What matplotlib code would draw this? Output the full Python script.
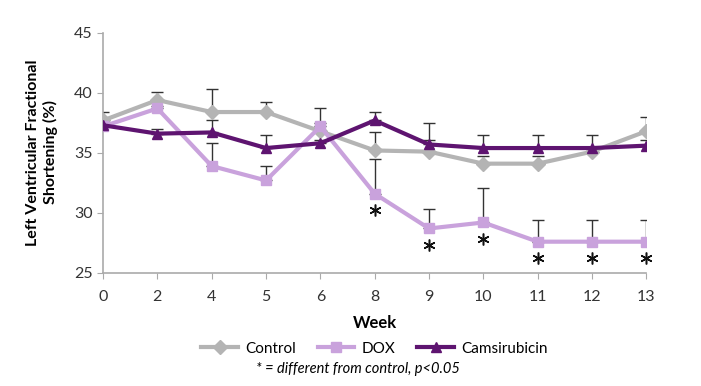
import numpy as np
import matplotlib
matplotlib.use("Agg")
import matplotlib.pyplot as plt

plt.rcParams['font.family'] = ['Lato', 'DejaVu Sans']

weeks = ["0", "2", "4", "5", "6", "8", "9", "10", "11", "12", "13"]

control = [37.7, 39.4, 38.4, 38.4, 36.8, 35.2, 35.1, 34.1, 34.1, 35.1, 36.8]
control_err = [0.7, 0.7, 1.9, 0.8, 1.9, 1.5, 1.0, 0.6, 0.6, 0.3, 1.2]

dox = [37.2, 38.7, 33.9, 32.7, 37.2, 31.6, 28.7, 29.2, 27.6, 27.6, 27.6]
dox_err = [0.2, 0.2, 1.9, 1.2, 0.3, 2.9, 1.6, 2.9, 1.8, 1.8, 1.8]

cams = [37.3, 36.6, 36.7, 35.4, 35.8, 37.7, 35.7, 35.4, 35.4, 35.4, 35.6]
cams_err = [0.2, 0.4, 1.0, 1.1, 0.3, 0.7, 1.8, 1.1, 1.1, 1.1, 0.5]

# weeks where DOX differs from control
signif = ["8", "9", "10", "11", "12", "13"]

c_control = "#b4b4b4"
c_dox = "#c9a2dc"
c_cams = "#5e1470"

x = np.arange(len(weeks))

fig = plt.figure(figsize=(7.01, 3.86), dpi=100)
ax = fig.add_axes([0.147, 0.293, 0.775, 0.622])

for vals, err in [(control, control_err), (dox, dox_err), (cams, cams_err)]:
    ax.errorbar(x, vals, yerr=[np.zeros(len(err)), err], fmt='none',
                ecolor='#333333', elinewidth=1, capsize=4, capthick=1, zorder=2)

ax.plot(x, control, color=c_control, lw=3, marker='D', ms=7, label='Control', zorder=3)
ax.plot(x, dox, color=c_dox, lw=3, marker='s', ms=7, label='DOX', zorder=3)
ax.plot(x, cams, color=c_cams, lw=3, marker='^', ms=7, label='Camsirubicin', zorder=4)

# significance asterisks under the DOX points
sx = [weeks.index(w) for w in signif]
sy = [dox[i] - 1.4 for i in sx]
ax.plot(sx, sy, ls='none', marker=(6, 2, 0), ms=8.5, mew=1.1, color='#111111',
        zorder=5, clip_on=False)

ax.set_xlim(0, len(weeks) - 1)
ax.set_ylim(25, 45)
ax.set_yticks([25, 30, 35, 40, 45])
ax.set_xticks(x)
ax.set_xticklabels(weeks)
ax.tick_params(axis='both', colors='#aaaaaa', labelcolor='#333333', labelsize=11.5, length=4)
ax.tick_params(axis='x', pad=8)
for s in ['top', 'right']:
    ax.spines[s].set_visible(False)
for s in ['left', 'bottom']:
    ax.spines[s].set_color('#aaaaaa')
    ax.spines[s].set_linewidth(1.2)

ax.set_xlabel("Week", fontsize=12, fontweight='bold', labelpad=8)
fig.text(0.06, 0.605, "Left Ventricular Fractional\nShortening (%)", rotation=90,
         ha='center', va='center', fontsize=11.5, fontweight='bold', linespacing=1.2)

ax.legend(loc='center', bbox_to_anchor=(0.5, -0.315), ncol=3, frameon=False,
          fontsize=11, handlelength=2.4, columnspacing=1.4, handletextpad=0.5)

fig.text(0.51, 0.045, "* = different from control, p<0.05", ha='center', va='center',
         fontsize=10.5, style='italic')

fig.savefig("out.png", dpi=100)
